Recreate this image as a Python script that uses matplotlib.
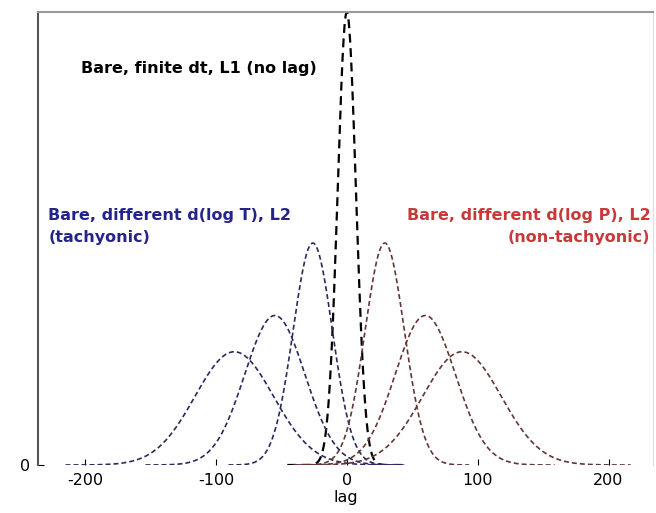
import numpy as np
import matplotlib
matplotlib.use("Agg")
import matplotlib.pyplot as plt

# Peak parameters (lag of peak, peak height, width)
curve_names = ["finite dt", "tach 1", "tach 2", "tach 3", "non-tach 1", "non-tach 2", "non-tach 3"]
peak_lags = [0, -26, -55, -86, 29, 60, 88]
peak_heights = [1.0, 0.49, 0.33, 0.25, 0.49, 0.33, 0.25]
peak_widths = [7, 15, 23, 30, 15, 23, 30]
curve_group = ["center", "blue", "blue", "blue", "red", "red", "red"]

xticks = [-200, -100, 0, 100, 200]
yticks = [0]

label_center = "Bare, finite dt, L1 (no lag)"
label_blue = "Bare, different d(log T), L2\n(tachyonic)"
label_red = "Bare, different d(log P), L2\n(non-tachyonic)"

colors = {"center": "#000000", "blue": "#2a2a5e", "red": "#663636"}

fig = plt.figure(figsize=(6.56, 5.13), dpi=100)
ax = fig.add_axes([38/656, 1-465/513, (653-38)/656, (465-12)/513])

for mu, h, s, g in zip(peak_lags, peak_heights, peak_widths, curve_group):
    half = 6.5 * s if g == "center" else 4.3 * s
    x = np.linspace(mu - half, mu + half, 400)
    y = h * np.exp(-0.5 * ((x - mu) / s) ** 2)
    lw = 1.6 if g == "center" else 1.2
    dash = (4, 2.5) if g == "center" else (3, 1.8)
    ax.plot(x, y, color=colors[g], lw=lw, linestyle=(0, dash))

ax.set_xlim(-236, 234)
ax.set_ylim(0, 1.0)
ax.set_xticks(xticks)
ax.set_xticklabels([str(t) for t in xticks])
ax.set_yticks(yticks)
ax.set_yticklabels(["0"])
ax.tick_params(direction="in", length=4, labelsize=11.5, pad=6)
ax.set_xlabel("lag", fontsize=11.5, labelpad=1)

ax.spines["bottom"].set_visible(False)
ax.spines["top"].set_color("#999999")
ax.spines["top"].set_linewidth(1.5)
ax.spines["left"].set_color("#555555")
ax.spines["left"].set_linewidth(1.5)
ax.spines["right"].set_color("#dddddd")

ax.text(-203, 0.875, label_center, fontsize=11.5, fontweight="bold", color="black", va="center", ha="left")
ax.text(-228, 0.527, label_blue, fontsize=11.5, fontweight="bold", color="#24248a", va="center",
        ha="left", linespacing=1.6)
ax.text(232, 0.527, label_red, fontsize=11.5, fontweight="bold", color="#c83a3a", va="center",
        ha="right", linespacing=1.6, multialignment="right")

fig.savefig("out.png", dpi=100)
